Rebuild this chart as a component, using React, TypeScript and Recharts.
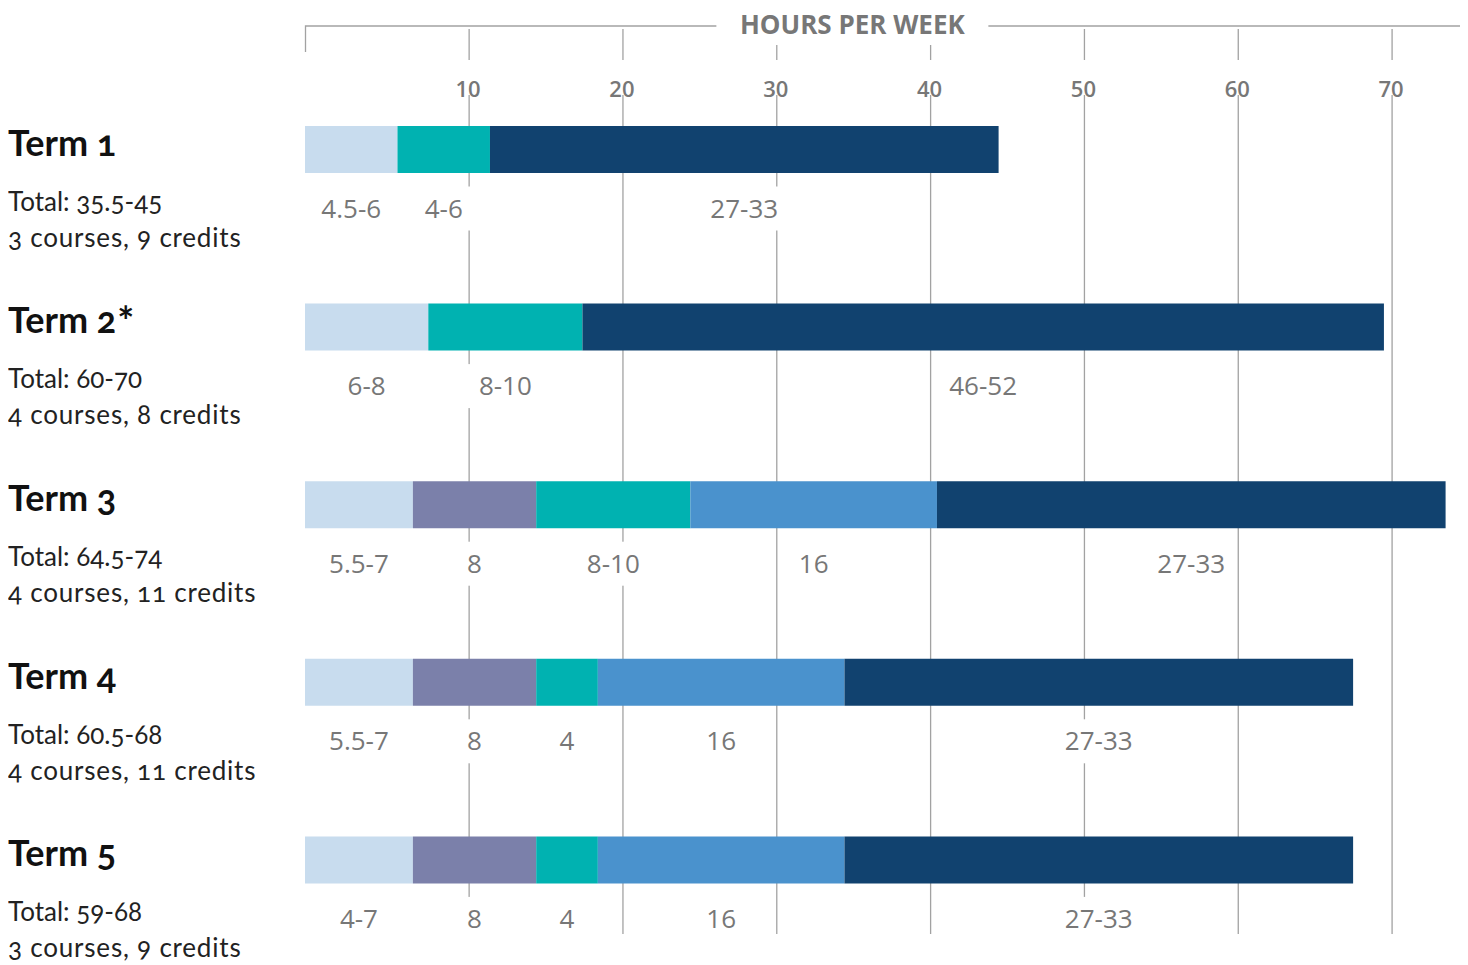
import React from 'react';
import { BarChart, Bar, XAxis, YAxis, CartesianGrid, LabelList } from 'recharts';

// ---- data ----
const terms = ['Term 1', 'Term 2*', 'Term 3', 'Term 4', 'Term 5'];
const totals = ['35.5-45', '60-70', '64.5-74', '60.5-68', '59-68'];
const courseNotes = [
  '3 courses, 9 credits',
  '4 courses, 8 credits',
  '4 courses, 11 credits',
  '4 courses, 11 credits',
  '3 courses, 9 credits',
];

const lightMin = [4.5, 6, 5.5, 5.5, 4];
const lightMax = [6, 8, 7, 7, 7];
const purpleMin = [0, 0, 8, 8, 8];
const purpleMax = [0, 0, 8, 8, 8];
const tealMin = [4, 8, 8, 4, 4];
const tealMax = [6, 10, 10, 4, 4];
const blueMin = [0, 0, 16, 16, 16];
const blueMax = [0, 0, 16, 16, 16];
const darkMin = [27, 46, 27, 27, 27];
const darkMax = [33, 52, 33, 33, 33];

const hourTicks = [10, 20, 30, 40, 50, 60, 70];
const axisTitle = 'HOURS PER WEEK';

// ---- styles / layout ----
const W = 1460;
const H = 957;
const MARGIN = { top: 1, right: 7, bottom: 31, left: 0 };
const TOP_AXIS_H = 86;
const COLORS = {
  light: '#c8dcee',
  purple: '#7b80aa',
  teal: '#00b2b1',
  blue: '#4a92cd',
  dark: '#11426f',
};
const GRID = '#a2a2a2';
const GRAY_TEXT = '#777777';
const LABEL_FONT = '"Open Sans", "Noto Sans", sans-serif';
const LEFT_FONT = 'Lato, "Noto Sans", sans-serif';
// span of the axis title, in hours, where tick marks are shortened
const TITLE_SPAN = [26, 44];

const fmt = (mn: number, mx: number) => (mn === mx ? (mx ? String(mx) : '') : `${mn}-${mx}`);

const rows = terms.map((t, i) => ({
  term: t,
  light: lightMax[i],
  lightLabel: fmt(lightMin[i], lightMax[i]),
  purple: purpleMax[i],
  purpleLabel: fmt(purpleMin[i], purpleMax[i]),
  teal: tealMax[i],
  tealLabel: fmt(tealMin[i], tealMax[i]),
  blue: blueMax[i],
  blueLabel: fmt(blueMin[i], blueMax[i]),
  dark: darkMax[i],
  darkLabel: fmt(darkMin[i], darkMax[i]),
}));

const series = ['light', 'purple', 'teal', 'blue', 'dark'] as const;

// ---- custom renderers ----
const HourTick = (props: any) => {
  const { x, y, payload } = props;
  const v = Number(payload.value);
  const underTitle = v > TITLE_SPAN[0] && v < TITLE_SPAN[1];
  return (
    <g>
      <line
        x1={x}
        x2={x}
        y1={underTitle ? y - 50 : y - 66}
        y2={y - 35}
        stroke={GRID}
        strokeWidth={1.3}
      />
      <text
        x={x - 1}
        y={y + 2}
        textAnchor="middle"
        fontFamily={LABEL_FONT}
        fontWeight={600}
        fontSize={22}
        fill={GRAY_TEXT}
      >
        {payload.value}
      </text>
    </g>
  );
};

const AxisTitle = (props: any) => {
  const vb = props.viewBox || {};
  const { x, y, width, height } = vb;
  const lineY = y + height - 69;
  const cx = x + width * 0.4735;
  return (
    <g>
      <path
        d={`M${x + 0.5},${lineY + 26}V${lineY}H${x + width + 0.5}V${lineY + 27}`}
        fill="none"
        stroke={GRID}
        strokeWidth={1.3}
      />
      <rect x={cx - 136} y={lineY - 16} width={272} height={34} fill="#fff" />
      <text
        x={cx}
        y={lineY + 8}
        textAnchor="middle"
        fontFamily={LABEL_FONT}
        fontWeight={700}
        fontSize={26}
        fill={GRAY_TEXT}
      >
        {props.value}
      </text>
    </g>
  );
};

const TermTick = (props: any) => {
  const { y, payload } = props;
  const name: string = String(payload.value);
  const idx = terms.indexOf(name);
  const star = name.endsWith('*');
  const base = star ? name.slice(0, -1) : name;
  return (
    <g>
      <text
        x={0}
        y={y + 6}
        fontFamily={LEFT_FONT}
        fontWeight={700}
        fontSize={36}
        fill="#111"
        style={{ fontVariantNumeric: 'oldstyle-nums' }}
      >
        {base}
        {star && (
          <tspan dx={1} dy={3} fontSize={40}>
            *
          </tspan>
        )}
      </text>
      <text
        x={0}
        y={y + 61}
        fontFamily={LEFT_FONT}
        fontSize={26}
        fill="#222"
        style={{ fontVariantNumeric: 'oldstyle-nums' }}
      >
        {`Total: ${totals[idx]}`}
      </text>
      <text
        x={0}
        y={y + 97}
        fontFamily={LEFT_FONT}
        fontSize={26}
        letterSpacing={0.8}
        fill="#222"
        style={{ fontVariantNumeric: 'oldstyle-nums' }}
      >
        {courseNotes[idx]}
      </text>
    </g>
  );
};

const SegLabel = (props: any) => {
  const vb = props.viewBox || props;
  const { x, y, width, height } = vb;
  const value = props.value;
  if (!value) return null;
  const cx = x + width / 2;
  const cy = y + height / 2 + 59;
  const w = String(value).length * 15 + 16;
  return (
    <g>
      <rect x={cx - w / 2} y={cy - 22} width={w} height={44} fill="#fff" />
      <text
        x={cx}
        y={cy + 9}
        textAnchor="middle"
        fontFamily={LABEL_FONT}
        fontWeight={500}
        fontSize={26}
        fill={GRAY_TEXT}
      >
        {value}
      </text>
    </g>
  );
};

const plotTop = MARGIN.top + TOP_AXIS_H;
const plotHeight = H - plotTop - MARGIN.bottom;

export default function App() {
  return (
    <div style={{ width: W, height: H }}>
      <BarChart
        width={W}
        height={H}
        data={rows}
        layout="vertical"
        margin={MARGIN}
        barCategoryGap={0}
      >
        <CartesianGrid
          xAxisId="hours"
          horizontal={false}
          vertical
          syncWithTicks
          y={plotTop}
          height={plotHeight}
          stroke={GRID}
          strokeWidth={1.3}
        />
        <XAxis
          xAxisId="bar"
          type="number"
          domain={[0, 75]}
          allowDataOverflow
          hide
          height={0}
          orientation="bottom"
        />
        <XAxis
          xAxisId="hours"
          type="number"
          orientation="top"
          domain={[-0.67, 74.48]}
          allowDataOverflow
          ticks={hourTicks}
          interval={0}
          height={TOP_AXIS_H}
          axisLine={false}
          tickLine={false}
          tickSize={0}
          tickMargin={0}
          tick={<HourTick />}
          label={{ value: axisTitle, content: AxisTitle }}
        />
        <YAxis
          type="category"
          dataKey="term"
          width={297}
          axisLine={false}
          tickLine={false}
          tickSize={0}
          tickMargin={0}
          interval={0}
          padding={{ top: -34, bottom: -15 }}
          tick={<TermTick />}
        />
        {series.map((s) => (
          <Bar
            key={s}
            dataKey={s}
            stackId="hours"
            xAxisId="bar"
            fill={COLORS[s]}
            barSize={47}
            isAnimationActive={false}
          >
            <LabelList dataKey={`${s}Label`} content={SegLabel} isAnimationActive={false} />
          </Bar>
        ))}
      </BarChart>
    </div>
  );
}
